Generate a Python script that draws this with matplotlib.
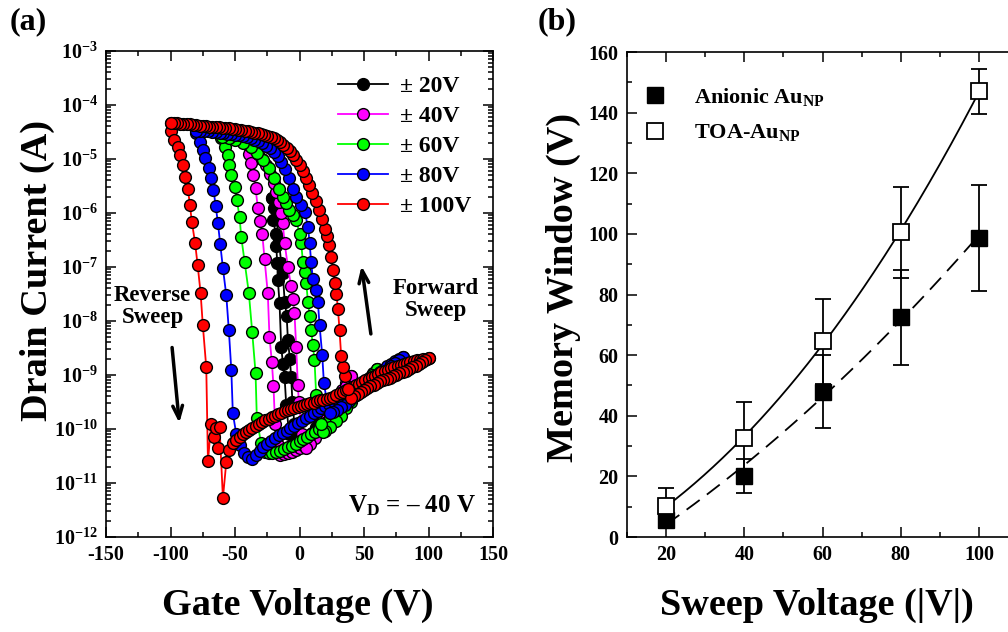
import numpy as np
import matplotlib
matplotlib.use("Agg")
import matplotlib.pyplot as plt
from matplotlib.ticker import LogLocator, FuncFormatter, MultipleLocator, NullFormatter

plt.rcParams.update({
    'font.family': 'Liberation Serif',
    'font.weight': 'bold',
    'mathtext.fontset': 'custom',
    'mathtext.rm': 'Liberation Serif:bold',
    'mathtext.it': 'Liberation Serif:bold',
    'mathtext.bf': 'Liberation Serif:bold',
    'axes.unicode_minus': False,
})

# ---- (a) transfer curves, log10(Id) ----
# sweep "a": from -V to +V, sweep "b": back from +V to -V
blk_a_vg = [-21, -20.2, -18.6, -18, -17.3, -16.8, -15.5, -14.2, -12.8, -11.6, -10.3, -8, -5, -2, 1, 4, 7, 10, 13, 16, 20]
blk_a_lg = [-5.72, -6.13, -6.38, -6.62, -6.93, -7.24, -7.67, -8.48, -8.8, -9.03, -9.56, -10.1, -10.33, -10.36, -10.33,
            -10.27, -10.18, -10.08, -9.97, -9.86, -9.72]
blk_b_vg = [20, 16, 12, 8, 4, 1, -2, -4, -5.5, -6.5, -7.5, -9, -10, -11.5, -13, -14.2, -16, -18, -19.5, -21]
blk_b_lg = [-9.72, -9.9, -10.05, -10.18, -10.28, -10.3, -10.2, -9.9, -9.5, -9.03, -8.7, -8.35, -7.9, -7.64, -7.11,
            -6.93, -6.5, -6.1, -5.9, -5.72]

mag_a_vg = [-40, -38.8, -37.5, -35.7, -34.1, -32.3, -30.5, -28.9, -27.1, -24.6, -23.3, -21.5, -20.2, -19, -17, -15,
            -12, -9, -6, -3, 0, 3, 6, 9, 12, 15, 18, 21, 24, 27, 30, 33, 36, 40]
mag_a_lg = [-4.74, -4.9, -5.08, -5.3, -5.54, -5.91, -6.15, -6.38, -6.86, -7.49, -8.29, -8.75, -9.2, -9.9, -10.3,
            -10.48, -10.47, -10.45, -10.42, -10.39, -10.35, -10.3, -10.24, -10.17, -10.08, -9.98, -9.87, -9.76,
            -9.64, -9.52, -9.4, -9.28, -9.15, -9.02]
mag_b_vg = [40, 36, 32, 28, 24, 20, 16, 12, 8, 5.2, 2, -0.5, -1.3, -2.6, -3.9, -5.2, -6.5, -9, -11.6, -13, -14.5,
            -16, -18, -20, -23, -26, -29, -32, -36, -40]
mag_b_lg = [-9.02, -9.2, -9.38, -9.55, -9.72, -9.88, -10.03, -10.17, -10.28, -10.36, -10.1, -9.5, -9.19, -8.48,
            -7.86, -7.6, -7.36, -7.0, -6.55, -6.19, -6.0, -5.8, -5.62, -5.45, -5.28, -5.12, -5.0, -4.9, -4.8, -4.72]

grn_a_vg = [-60.7, -58.1, -55.6, -54.3, -52.9, -50.4, -48.6, -46.5, -45.2, -42.6, -39.3, -36.7, -34.1, -33.1, -30,
            -27, -24, -21, -18, -15, -12, -9, -6, -3, 0, 3, 6, 9, 12, 15, 18, 21, 24, 27, 30, 33, 36, 39, 42, 45,
            48, 51, 54, 57, 60]
grn_a_lg = [-4.62, -4.77, -4.93, -5.11, -5.3, -5.51, -5.76, -6.07, -6.44, -6.9, -7.48, -8.2, -8.96, -9.8, -10.25,
            -10.42, -10.45, -10.45, -10.42, -10.4, -10.37, -10.34, -10.31, -10.27, -10.23, -10.19, -10.15, -10.1,
            -10.05, -10.0, -9.94, -9.87, -9.8, -9.73, -9.66, -9.59, -9.52, -9.45, -9.38, -9.3, -9.22, -9.14,
            -9.05, -8.96, -8.88]
grn_b_vg = [60, 56, 52, 48, 44, 40, 36, 32, 28, 24, 20, 18, 16.8, 14.8, 12.9, 11.6, 10.3, 9, 7.8, 6.5, 5.2, 3.9,
            2.6, 1.3, 0, -2.6, -5.2, -7.8, -10.4, -13, -16, -20, -24, -28, -33, -38, -44, -50, -55, -60]
grn_b_lg = [-8.88, -9.0, -9.12, -9.25, -9.37, -9.5, -9.62, -9.75, -9.86, -9.96, -10.03, -10.05, -9.9, -9.65,
            -9.37, -8.72, -8.45, -8.17, -7.9, -7.64, -7.29, -7.1, -6.9, -6.56, -6.38, -6.13, -6.03, -5.94, -5.82,
            -5.7, -5.55, -5.35, -5.17, -5.02, -4.88, -4.78, -4.7, -4.65, -4.62, -4.6]

blu_a_vg = [-80, -77.5, -75, -73, -70.3, -68.5, -66.7, -65, -63.3, -61.5, -59.4, -56.8, -54.8, -52.9, -51.7, -49,
            -46, -43, -40, -37, -34, -31, -28, -25, -22, -19, -16, -13, -10, -7, -4, -1, 2, 5, 8, 11, 14, 17, 20,
            23, 26, 29, 32, 35, 38, 41, 44, 47, 50, 53, 56, 59, 62, 65, 68, 71, 74, 77, 80]
blu_a_lg = [-4.52, -4.68, -4.83, -4.99, -5.17, -5.36, -5.57, -5.87, -6.18, -6.57, -7.02, -7.52, -8.17, -8.9,
            -9.71, -10.1, -10.3, -10.45, -10.52, -10.56, -10.48, -10.4, -10.33, -10.27, -10.22, -10.17, -10.12,
            -10.07, -10.03, -9.98, -9.94, -9.89, -9.85, -9.8, -9.76, -9.71, -9.67, -9.62, -9.58, -9.54, -9.49,
            -9.45, -9.4, -9.36, -9.31, -9.27, -9.22, -9.18, -9.13, -9.09, -9.04, -9.0, -8.95, -8.9, -8.84, -8.79,
            -8.74, -8.7, -8.66]
blu_b_vg = [80, 77, 74, 71, 68, 65, 62, 59, 56, 53, 50, 47, 44, 41, 38, 35, 32, 29, 26, 23.3, 21, 18.9, 17.6, 15.5,
            14.2, 12.5, 10.3, 9, 7.8, 6.5, 4, 1, -2.6, -5, -7.8, -11, -14, -17, -20, -23, -26, -29, -32, -35, -38,
            -41, -44, -47, -50, -53, -56, -59, -62, -65, -68, -71, -74, -77, -80]
blu_b_lg = [-8.66, -8.72, -8.78, -8.84, -8.9, -8.95, -9.01, -9.07, -9.13, -9.19, -9.25, -9.31, -9.37, -9.43, -9.49,
            -9.55, -9.6, -9.64, -9.68, -9.7, -9.45, -9.15, -8.63, -8.07, -7.64, -7.42, -7.22, -6.9, -6.55, -6.25,
            -5.98, -5.85, -5.7, -5.55, -5.36, -5.18, -5.05, -4.95, -4.87, -4.8, -4.75, -4.7, -4.67, -4.64, -4.61,
            -4.59, -4.57, -4.56, -4.55, -4.54, -4.53, -4.52, -4.51, -4.5, -4.5, -4.49, -4.49, -4.48, -4.48]

red_a_vg = [-100, -99.5, -97, -94.5, -92.5, -90.5, -88.5, -86.5, -85, -83.5, -81, -79, -76.7, -75, -72.3, -71,
            -68.5, -66, -64.6, -63.3, -62, -59.4, -56.8, -54.3, -51.7, -49, -46.5, -44, -41.5, -39, -36.5, -34,
            -31.5, -29, -26.5, -24, -21.5, -19, -16.5, -14, -11.5, -9, -6.5, -4, -1.5, 1, 3.5, 6, 8.5, 11, 13.5,
            16, 18.5, 21, 23.5, 26, 28.5, 31, 33.5, 36, 38.5, 41, 43.5, 46, 48.5, 51, 53.5, 56, 58.5, 61, 63.5,
            66, 68.5, 71, 73.5, 76, 78.5, 81, 83.5, 86, 88.5, 91, 93.5, 96, 98.5, 100]
red_a_lg = [-4.33, -4.49, -4.64, -4.77, -4.93, -5.11, -5.33, -5.56, -5.85, -6.16, -6.55, -6.96, -7.48, -8.07,
            -8.86, -10.6, -9.9, -10.14, -9.99, -10.36, -9.96, -11.28, -10.62, -10.39, -10.26, -10.2, -10.14, -10.1,
            -10.06, -10.02, -9.98, -9.94, -9.9, -9.87, -9.84, -9.81, -9.78, -9.75, -9.72, -9.7, -9.67, -9.65,
            -9.63, -9.61, -9.59, -9.57, -9.55, -9.54, -9.52, -9.51, -9.49, -9.47, -9.46, -9.44, -9.42, -9.4,
            -9.37, -9.34, -9.31, -9.28, -9.25, -9.22, -9.19, -9.16, -9.13, -9.1, -9.07, -9.04, -9.01, -8.98,
            -8.95, -8.93, -8.9, -8.87, -8.85, -8.83, -8.81, -8.79, -8.77, -8.76, -8.74, -8.73, -8.72, -8.71,
            -8.7, -8.69]
red_b_vg = [100, 97.5, 95, 92.5, 90, 87.5, 85, 82.5, 80, 77.5, 75, 72.5, 70, 67.5, 65, 62.5, 60, 57.5, 55, 52.5,
            50, 47.5, 45, 42.5, 40, 37.5, 35, 33.5, 32.3, 31, 29.8, 28.6, 27.4, 26, 24.5, 23, 21.5, 20, 17.5, 15,
            12.5, 10, 7.5, 5, 2.5, 0, -2.5, -5, -7.5, -10, -12.5, -15, -17.5, -20, -22.5, -25, -27.5, -30, -32.5,
            -35, -37.5, -40, -42.5, -45, -47.5, -50, -52.5, -55, -57.5, -60, -62.5, -65, -67.5, -70, -72.5, -75,
            -77.5, -80, -82.5, -85, -87.5, -90, -92.5, -95, -97.5, -100]
red_b_lg = [-8.69, -8.73, -8.76, -8.8, -8.83, -8.86, -8.89, -8.92, -8.95, -8.97, -9.0, -9.02, -9.05, -9.07, -9.1,
            -9.12, -9.15, -9.18, -9.21, -9.24, -9.27, -9.31, -9.35, -9.39, -9.43, -9.25, -9.02, -8.85, -8.65,
            -8.17, -7.78, -7.5, -7.3, -7.06, -6.82, -6.6, -6.42, -6.3, -6.12, -5.95, -5.78, -5.63, -5.49, -5.36,
            -5.23, -5.12, -5.02, -4.93, -4.86, -4.8, -4.74, -4.69, -4.65, -4.62, -4.59, -4.57, -4.55, -4.53,
            -4.52, -4.51, -4.5, -4.49, -4.48, -4.47, -4.46, -4.45, -4.44, -4.43, -4.43, -4.42, -4.41, -4.41,
            -4.4, -4.4, -4.39, -4.38, -4.38, -4.37, -4.37, -4.36, -4.36, -4.35, -4.35, -4.34, -4.34, -4.33]

curves = [
    ('\u00b1 20V', 'black', blk_a_vg, blk_a_lg, blk_b_vg, blk_b_lg),
    ('\u00b1 40V', '#ff00ff', mag_a_vg, mag_a_lg, mag_b_vg, mag_b_lg),
    ('\u00b1 60V', '#00ff00', grn_a_vg, grn_a_lg, grn_b_vg, grn_b_lg),
    ('\u00b1 80V', '#0000ff', blu_a_vg, blu_a_lg, blu_b_vg, blu_b_lg),
    ('\u00b1 100V', '#ff0000', red_a_vg, red_a_lg, red_b_vg, red_b_lg),
]

# ---- (b) memory window ----
sweep_v = [20, 40, 60, 80, 100]
anionic_mw = [5.6, 20.2, 48.0, 72.5, 98.7]
anionic_err = [2.5, 5.6, 12.0, 15.6, 17.5]
toa_mw = [10.2, 32.5, 64.5, 100.5, 147.0]
toa_err = [6.0, 12.0, 14.0, 15.0, 7.5]

fig = plt.figure(figsize=(10.08, 6.32), dpi=100)
ax1 = fig.add_axes([0.1052, 0.1503, 0.3839, 0.769])
ax2 = fig.add_axes([0.622, 0.1503, 0.388, 0.7674])

for label, col, va, la, vb, lb in curves:
    kw = dict(color=col, lw=1.3, marker='o', ms=8.5, mfc=col, mec='black', mew=1.0)
    ax1.plot(va, 10.0 ** np.array(la), label=label, **kw)
    ax1.plot(vb, 10.0 ** np.array(lb), **kw)

ax1.set_yscale('log')
ax1.set_xlim(-150, 150)
ax1.set_ylim(1e-12, 1e-3)
ax1.xaxis.set_major_locator(MultipleLocator(50))
ax1.xaxis.set_minor_locator(MultipleLocator(25))
ax1.xaxis.set_major_formatter(FuncFormatter(lambda v, p: '%d' % v))
ax1.yaxis.set_major_locator(LogLocator(base=10, numticks=20))
ax1.yaxis.set_minor_locator(LogLocator(base=10, subs=np.arange(2, 10), numticks=20))
ax1.yaxis.set_minor_formatter(NullFormatter())
ax1.yaxis.set_major_formatter(FuncFormatter(lambda v, p: r'$10^{%d}$' % round(np.log10(v))))

ax1.legend(loc='upper left', bbox_to_anchor=(0.6, 0.95), frameon=False, fontsize=17, borderaxespad=0,
           handlelength=2.1, handletextpad=0.5, labelspacing=0.36, borderpad=0)

ax1.annotate('', xy=(-93, 10 ** -9.94), xytext=(-99, 10 ** -8.44),
             arrowprops=dict(arrowstyle='->,head_length=0.9,head_width=0.35', lw=2.5, color='black'))
ax1.annotate('', xy=(47.8, 10 ** -6.93), xytext=(55.6, 10 ** -8.29),
             arrowprops=dict(arrowstyle='->,head_length=0.9,head_width=0.35', lw=2.5, color='black'))
ax1.text(-114, 10 ** -7.73, 'Reverse\nSweep', ha='center', va='center', fontsize=16.5, linespacing=1.1)
ax1.text(105.5, 10 ** -7.6, 'Forward\nSweep', ha='center', va='center', fontsize=16.5, linespacing=1.1)
ax1.text(0.955, 0.065, 'V$_\\mathregular{D}$ = \u2013 40 V',
         transform=ax1.transAxes, ha='right', va='center', fontsize=18)

# panel (b)
xs = np.linspace(20, 100, 200)
ax2.plot(xs, np.polyval(np.polyfit(sweep_v, toa_mw, 3), xs), color='black', lw=1.3)
ax2.plot(xs, np.polyval(np.polyfit(sweep_v, anionic_mw, 2), xs), color='black', lw=1.3,
         dashes=(9, 5))
ax2.errorbar(sweep_v, anionic_mw, yerr=anionic_err, fmt='s', color='black', ms=11, mfc='black',
             mec='black', capsize=5.5, elinewidth=1.3, capthick=1.3, label='Anionic Au$_{NP}$', zorder=3)
ax2.errorbar(sweep_v, toa_mw, yerr=toa_err, fmt='s', color='black', ms=11, mfc='white',
             mec='black', mew=1.3, capsize=5.5, elinewidth=1.3, capthick=1.3, label='TOA-Au$_{NP}$', zorder=4)
ax2.set_xlim(10, 110)
ax2.set_ylim(0, 160)
ax2.xaxis.set_major_locator(MultipleLocator(20))
ax2.xaxis.set_minor_locator(MultipleLocator(10))
ax2.yaxis.set_major_locator(MultipleLocator(20))
ax2.yaxis.set_minor_locator(MultipleLocator(10))
h, l = ax2.get_legend_handles_labels()
ax2.legend([x[0] for x in h], l, loc='upper left', bbox_to_anchor=(0.0435, 0.93), frameon=False,
           fontsize=16, borderaxespad=0, handlelength=1.0, handletextpad=1.25, labelspacing=0.65, borderpad=0)

for ax in (ax1, ax2):
    for s in ax.spines.values():
        s.set_linewidth(1.2)
    ax.tick_params(which='both', direction='in', top=True, right=True, labelsize=14.5, width=1.1)
    ax.tick_params(which='major', length=7, pad=6)
    ax.tick_params(which='minor', length=3.5)

fig.text(37 / 1008, 1 - 270 / 632, 'Drain Current (A)', rotation=90, ha='center', va='center', fontsize=27.5)
fig.text(298 / 1008, 1 - 605 / 632, 'Gate Voltage (V)', ha='center', va='center', fontsize=27.5)
fig.text(563 / 1008, 1 - 287 / 632, 'Memory Window (V)', rotation=90, ha='center', va='center', fontsize=27.5)
fig.text(817 / 1008, 1 - 605 / 632, 'Sweep Voltage (|V|)', ha='center', va='center', fontsize=27.5)
fig.text(10 / 1008, 1 - 22 / 632, '(a)', ha='left', va='center', fontsize=23)
fig.text(538 / 1008, 1 - 22 / 632, '(b)', ha='left', va='center', fontsize=23)

fig.savefig('out.png', dpi=100)
